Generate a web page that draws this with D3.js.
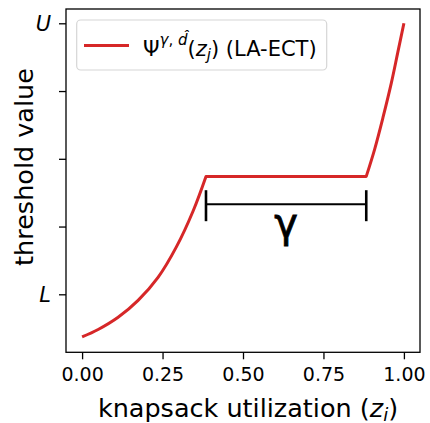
<!DOCTYPE html>
<html>
<head>
<meta charset="utf-8">
<script src="https://cdn.jsdelivr.net/npm/d3@7"></script>
<style>
  body { margin: 0; background: #fff; }
  text { font-family: "DejaVu Sans", sans-serif; fill: #000; }
</style>
</head>
<body>
<div id="chart"></div>
<script>
// values (threshold in units where L = 1, U = 5)
const rampUpX = [0, 0.05, 0.112, 0.174, 0.236, 0.293, 0.345, 0.385];
const rampUpY = [0.37, 0.48, 0.66, 0.91, 1.25, 1.70, 2.23, 2.74];
const plateauX = [0.385, 0.883];
const plateauY = [2.74, 2.74];
const rampEndX = [0.883, 0.909, 0.935, 0.961, 0.981, 1.0];
const rampEndY = [2.74, 3.14, 3.61, 4.12, 4.57, 5.0];

const xTicks = [0, 0.25, 0.5, 0.75, 1.0];
const yTicks = [1, 2, 3, 4, 5];
const yTickLabels = ["L", "", "", "", "U"];

const gammaSpan = [0.385, 0.883]; // the γ bracket under the plateau
const gammaLevel = 2.33;

const W = 430, H = 423;
const margin = { left: 67, right: 10, top: 9, bottom: 70.7 };

const svg = d3.select("#chart")
  .append("svg")
  .attr("width", W)
  .attr("height", H);

const x = d3.scaleLinear()
  .domain([-0.05, 1.05])
  .range([margin.left - 1, W - margin.right]);

const y = d3.scaleLinear()
  .domain([0.144, 5.211])
  .range([H - margin.bottom, margin.top]);

const xAxis = d3.axisBottom(x)
  .tickValues(xTicks)
  .tickFormat(d3.format(".2f"))
  .tickSizeOuter(0)
  .tickSize(7)
  .tickPadding(4);

const yAxis = d3.axisLeft(y)
  .tickValues(yTicks)
  .tickFormat((d, i) => yTickLabels[i])
  .tickSizeOuter(0)
  .tickSize(7)
  .tickPadding(8);

const gx = svg.append("g")
  .attr("transform", `translate(0,${H - margin.bottom})`)
  .call(xAxis);
gx.select(".domain").remove();
gx.selectAll("line").attr("stroke", "#000").attr("stroke-width", 1.3);
gx.selectAll("text").attr("font-size", 19).attr("dy", "0.95em")
  .style("font-family", "DejaVu Sans");

const gy = svg.append("g")
  .attr("transform", `translate(${x.range()[0]},0)`)
  .call(yAxis);
gy.select(".domain").remove();
gy.selectAll("line").attr("stroke", "#000").attr("stroke-width", 1.3);
gy.selectAll("text").attr("font-size", 21).attr("font-style", "italic")
  .style("font-family", "DejaVu Sans");

// frame
svg.append("rect")
  .attr("x", x.range()[0])
  .attr("y", margin.top)
  .attr("width", x.range()[1] - x.range()[0])
  .attr("height", H - margin.bottom - margin.top)
  .attr("fill", "none")
  .attr("stroke", "#000")
  .attr("stroke-width", 1.3);

// threshold curve: smooth ramps, flat plateau, sharp corners
const pts = (xs, ys) => xs.map((v, i) => [v, ys[i]]);
const smooth = d3.line().x(d => x(d[0])).y(d => y(d[1])).curve(d3.curveCatmullRom.alpha(0.5));
const straight = d3.line().x(d => x(d[0])).y(d => y(d[1]));
const pathD = smooth(pts(rampUpX, rampUpY))
  + straight(pts(plateauX, plateauY)).replace(/^M/, "L")
  + smooth(pts(rampEndX, rampEndY)).replace(/^M/, "L");

svg.append("path")
  .attr("d", pathD)
  .attr("fill", "none")
  .attr("stroke", "#d62728")
  .attr("stroke-width", 3)
  .attr("stroke-linejoin", "round");

// γ bracket
const bracket = svg.append("g").attr("stroke", "#000").attr("stroke-width", 2);
bracket.append("line")
  .attr("x1", x(gammaSpan[0])).attr("x2", x(gammaSpan[1]))
  .attr("y1", y(gammaLevel)).attr("y2", y(gammaLevel));
gammaSpan.forEach(v => {
  bracket.append("line")
    .attr("x1", x(v)).attr("x2", x(v))
    .attr("y1", y(gammaLevel) - 14).attr("y2", y(gammaLevel) + 17)
    .attr("stroke-width", 2.6);
});
svg.append("text")
  .attr("x", x((gammaSpan[0] + gammaSpan[1]) / 2))
  .attr("y", y(gammaLevel) + 33)
  .attr("text-anchor", "middle")
  .attr("font-size", 40)
  .attr("stroke", "#000")
  .attr("stroke-width", 0.8)
  .text("γ");

// legend
const legend = svg.append("g");
legend.append("rect")
  .attr("x", 76.7).attr("y", 20)
  .attr("width", 250).attr("height", 50)
  .attr("rx", 4)
  .attr("fill", "#fff").attr("fill-opacity", 0.8)
  .attr("stroke", "#d6d6d6").attr("stroke-width", 1.2);
legend.append("line")
  .attr("x1", 84).attr("x2", 129)
  .attr("y1", 45.5).attr("y2", 45.5)
  .attr("stroke", "#d62728").attr("stroke-width", 3);
const lt = legend.append("text")
  .attr("x", 143).attr("y", 55.7)
  .attr("font-size", 21);
lt.append("tspan").text("Ψ");
lt.append("tspan").attr("dy", -11).attr("font-size", 15).attr("font-style", "italic").text("γ");
lt.append("tspan").attr("font-size", 15).text(", ");
lt.append("tspan").attr("font-size", 15).attr("font-style", "italic").text("d\u0302");
lt.append("tspan").attr("dy", 11).text("(");
lt.append("tspan").attr("font-style", "italic").text("z");
lt.append("tspan").attr("dy", 4).attr("font-size", 15).attr("font-style", "italic").text("j");
lt.append("tspan").attr("dy", -4).text(") (LA-ECT)");

// axis labels
const xl = svg.append("text")
  .attr("x", 248).attr("y", 416.5)
  .attr("text-anchor", "middle")
  .attr("font-size", 25.5);
xl.append("tspan").text("knapsack utilization (");
xl.append("tspan").attr("font-style", "italic").text("z");
xl.append("tspan").attr("dy", 4).attr("font-size", 18).attr("font-style", "italic").text("i");
xl.append("tspan").attr("dy", -4).text(")");

svg.append("text")
  .attr("transform", "translate(33,167) rotate(-90)")
  .attr("text-anchor", "middle")
  .attr("font-size", 25.5)
  .text("threshold value");
</script>
</body>
</html>
